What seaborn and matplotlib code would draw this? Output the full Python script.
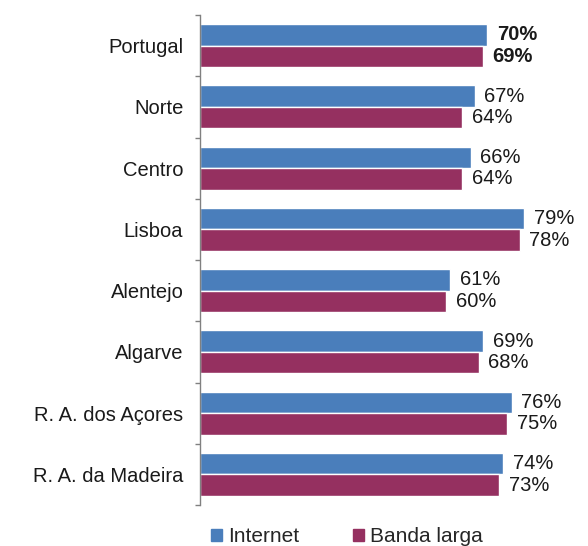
import pandas as pd
import numpy as np
import seaborn as sns
import matplotlib.pyplot as plt

regioes = ['Portugal', 'Norte', 'Centro', 'Lisboa', 'Alentejo', 'Algarve',
           'R. A. dos Açores', 'R. A. da Madeira']
internet = [70, 67, 66, 79, 61, 69, 76, 74]
banda_larga = [69, 64, 64, 78, 60, 68, 75, 73]
series = ['Internet', 'Banda larga']
cores = ['#4a7ebb', '#953060']

sns.set_style('white')
plt.rcParams['font.family'] = ['Liberation Sans', 'DejaVu Sans']

df = pd.DataFrame({
    'regiao': regioes * 2,
    'valor': internet + banda_larga,
    'serie': [series[0]] * len(regioes) + [series[1]] * len(regioes),
})

fig = plt.figure(figsize=(5.88, 5.46), dpi=100)
ax = fig.add_axes([200 / 588, 1 - 505 / 546, 380 / 588, 490 / 546])

sns.barplot(data=df, x='valor', y='regiao', hue='serie', orient='h',
            palette=cores, saturation=1, width=0.7, ax=ax, legend=False)

for cont in ax.containers:
    txts = ax.bar_label(cont, fmt='%d%%', padding=7, fontsize=14.5, color='#1a1a1a')
    txts[0].set_fontweight('bold')

ax.set_xlim(0, 92.7)
ax.set_ylim(len(regioes) - 0.5, -0.5)
ax.set_xlabel('')
ax.set_ylabel('')
ax.set_xticks([])
ax.tick_params(axis='y', which='major', left=False, length=0, labelsize=14.5,
               pad=12, labelcolor='#1a1a1a')
ax.set_yticks(np.arange(-0.5, len(regioes)), minor=True)
ax.tick_params(axis='y', which='minor', left=True, length=3.5, color='#808080', width=1)
for s in ['top', 'right', 'bottom']:
    ax.spines[s].set_visible(False)
ax.spines['left'].set_color('#808080')
ax.spines['left'].set_linewidth(1)

handles = [plt.Rectangle((0, 0), 1, 1, color=c) for c in cores]
fig.legend(handles, series, loc='lower center', bbox_to_anchor=(0.59, -0.035),
           ncol=2, frameon=False, fontsize=15, handlelength=0.5,
           handleheight=0.5, handletextpad=0.3, columnspacing=2.6)

fig.savefig('out.png', dpi=100)
